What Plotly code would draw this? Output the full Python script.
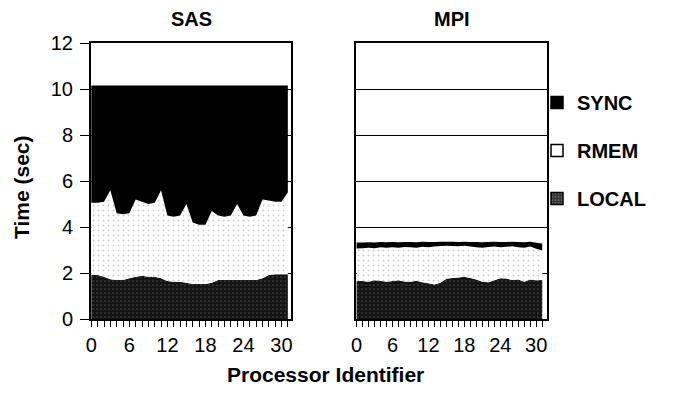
import plotly.graph_objects as go

processors = list(range(32))
x_tick_labels = [str(p) if p % 6 == 0 else "" for p in processors]
y_ticks = [0, 2, 4, 6, 8, 10, 12]

sas_local = [1.91, 1.91, 1.84, 1.73, 1.70, 1.70, 1.77, 1.84, 1.88, 1.84, 1.84, 1.77, 1.65, 1.62, 1.62, 1.58,
             1.52, 1.52, 1.52, 1.58, 1.70, 1.70, 1.70, 1.70, 1.70, 1.70, 1.70, 1.77, 1.91, 1.95, 1.95, 1.95]
sas_rmem = [3.14, 3.14, 3.26, 3.87, 2.90, 2.85, 2.83, 3.36, 3.22, 3.16, 3.21, 3.83, 2.85, 2.83, 2.88, 3.42,
            2.68, 2.58, 2.58, 3.12, 2.80, 2.75, 2.80, 3.30, 2.80, 2.75, 2.80, 3.43, 3.24, 3.15, 3.15, 3.55]
sas_sync = [5.10, 5.10, 5.05, 4.55, 5.55, 5.60, 5.55, 4.95, 5.05, 5.15, 5.10, 4.55, 5.65, 5.70, 5.65, 5.15,
            5.95, 6.05, 6.05, 5.45, 5.65, 5.70, 5.65, 5.15, 5.65, 5.70, 5.65, 4.95, 5.00, 5.05, 5.05, 4.65]

mpi_local = [1.65, 1.65, 1.62, 1.68, 1.66, 1.62, 1.65, 1.68, 1.63, 1.62, 1.66, 1.60, 1.55, 1.50, 1.58, 1.75,
             1.78, 1.80, 1.84, 1.78, 1.72, 1.62, 1.60, 1.68, 1.77, 1.76, 1.70, 1.72, 1.62, 1.72, 1.68, 1.70]
mpi_rmem = [1.42, 1.43, 1.48, 1.40, 1.46, 1.48, 1.47, 1.42, 1.50, 1.50, 1.44, 1.54, 1.57, 1.65, 1.59, 1.43,
            1.39, 1.36, 1.34, 1.37, 1.40, 1.48, 1.53, 1.47, 1.35, 1.38, 1.46, 1.40, 1.48, 1.43, 1.37, 1.28]
mpi_sync = [0.26, 0.25, 0.24, 0.25, 0.23, 0.24, 0.23, 0.24, 0.22, 0.23, 0.24, 0.22, 0.23, 0.20, 0.19, 0.18,
            0.19, 0.19, 0.18, 0.20, 0.23, 0.24, 0.22, 0.21, 0.23, 0.21, 0.20, 0.23, 0.24, 0.21, 0.27, 0.30]

FONT = "Liberation Sans, Arial, sans-serif"

styles = {
    "LOCAL": dict(fill="#141414", dot="#7a7a7a", size=4, sol=0.15),
    "RMEM": dict(fill="#ffffff", dot="#9a9a9a", size=5, sol=0.12),
    "SYNC": dict(fill="#000000", dot="#000000", size=4, sol=0.1),
}

fig = go.Figure()

panels = [("sas", "x", "y", sas_local, sas_rmem, sas_sync),
          ("mpi", "x2", "y2", mpi_local, mpi_rmem, mpi_sync)]
for grp, xa, ya, loc, rm, sy in panels:
    for name, vals in [("LOCAL", loc), ("RMEM", rm), ("SYNC", sy)]:
        s = styles[name]
        fig.add_trace(go.Scatter(
            x=processors, y=vals, xaxis=xa, yaxis=ya, stackgroup=grp, mode="none",
            fillcolor=s["fill"],
            fillpattern=dict(shape=".", fgcolor=s["dot"], bgcolor=s["fill"], size=s["size"], solidity=s["sol"]),
            showlegend=False, name=name, hoverinfo="skip"))

# legend entries
for name in ["SYNC", "RMEM", "LOCAL"]:
    s = styles[name]
    fig.add_trace(go.Bar(
        x=[None], y=[None], name="<b>" + name + "</b>", legendgroup=name, xaxis="x2", yaxis="y2",
        marker=dict(color=s["fill"] if name != "LOCAL" else "#333333",
                    line=dict(color="black", width=1.5),
                    pattern=dict(shape="." if name == "LOCAL" else "", fgcolor="#999999", size=4, solidity=0.3)),
        showlegend=True))

OFF = 8  # page body margin
W, H = 682 - OFF, 409 - OFF
PL, PR, PT, PB = 91, 547, 43, 319   # plot area in page pixels
L, T = PL - OFF, PT - OFF
R, B = W - (PR - OFF), H - (PB - OFF)
pw = PR - PL
ph = PB - PT


def px(xp):
    return (xp - PL) / pw


def py(yp):
    return (PB - yp) / ph


sas_dom = [0, px(291)]
mpi_dom = [px(356), 1]

xcommon = dict(tickmode="array", tickvals=processors, ticktext=x_tick_labels, ticks="outside",
               ticklen=6, tickwidth=1.3, tickcolor="black", showline=True, linecolor="black",
               linewidth=2, mirror=True, showgrid=False, zeroline=False, automargin=False,
               tickfont=dict(family=FONT, size=20, color="black"), ticklabelstandoff=1)
ycommon = dict(range=[0, 12], tickvals=y_ticks, showline=True, linecolor="black", linewidth=2,
               mirror=True, showgrid=True, gridcolor="black", gridwidth=1, zeroline=False,
               automargin=False)

fig.update_layout(
    width=W, height=H, margin=dict(l=L, r=R, t=T, b=B, autoexpand=False),
    paper_bgcolor="white", plot_bgcolor="white",
    font=dict(family=FONT, color="black"),
    xaxis=dict(domain=sas_dom, range=[-0.05, 31.5], anchor="y", **xcommon),
    xaxis2=dict(domain=mpi_dom, range=[-0.1, 31.8], anchor="y2", **xcommon),
    yaxis=dict(anchor="x", ticks="outside", ticklen=9, tickwidth=1.3, tickcolor="black",
               tickfont=dict(family=FONT, size=20, color="black"), ticklabelstandoff=3, **ycommon),
    yaxis2=dict(anchor="x2", showticklabels=False, ticks="", **ycommon),
    legend=dict(x=px(537), xanchor="left", y=py(83), yanchor="top",
                font=dict(family=FONT, size=20, color="black"), tracegroupgap=19,
                itemwidth=30, bgcolor="rgba(0,0,0,0)", traceorder="grouped"),
    barmode="overlay",
    showlegend=True,
)

fig.add_annotation(text="<b>SAS</b>", xref="x domain", yref="paper", x=0.5, y=py(19),
                   xanchor="center", yanchor="middle", showarrow=False,
                   font=dict(family=FONT, size=20, color="black"))
fig.add_annotation(text="<b>MPI</b>", xref="x2 domain", yref="paper", x=0.5, y=py(19),
                   xanchor="center", yanchor="middle", showarrow=False,
                   font=dict(family=FONT, size=20, color="black"))
fig.add_annotation(text="<b>Time (sec)</b>", xref="paper", yref="paper",
                   x=px(21), y=py(187), textangle=-90,
                   xanchor="center", yanchor="middle", showarrow=False,
                   font=dict(family=FONT, size=21, color="black"))
fig.add_annotation(text="<b>Processor Identifier</b>", xref="paper", yref="paper",
                   x=px(325), y=py(374),
                   xanchor="center", yanchor="middle", showarrow=False,
                   font=dict(family=FONT, size=21, color="black"))

fig.write_html("out.html")
